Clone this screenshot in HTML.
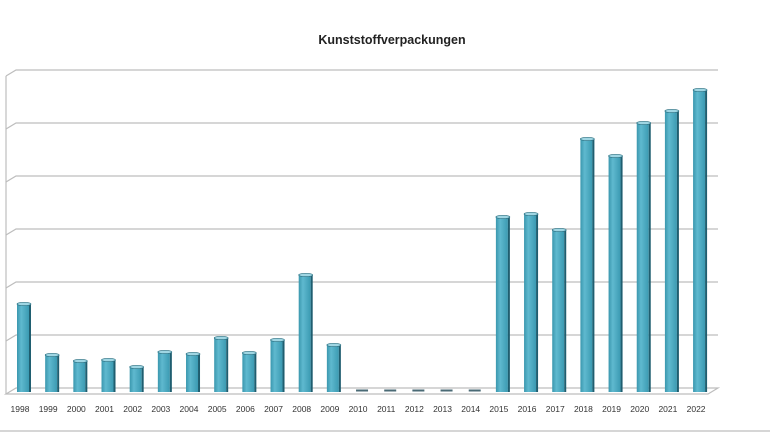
<!DOCTYPE html>
<html><head><meta charset="utf-8"><style>
html,body{margin:0;padding:0;background:#fff;}
svg{display:block;}
</style></head><body>
<svg width="770" height="433" viewBox="0 0 770 433" xmlns="http://www.w3.org/2000/svg">
<defs>
<linearGradient id="g" x1="0" x2="1" y1="0" y2="0">
<stop offset="0" stop-color="#3a97ae"/>
<stop offset="0.35" stop-color="#5fb9cf"/>
<stop offset="1" stop-color="#3b9ab2"/>
</linearGradient>
</defs>
<text x="392" y="44" text-anchor="middle" font-family="Liberation Sans, sans-serif" font-weight="bold" font-size="12.5" fill="#222">Kunststoffverpackungen</text>
<g stroke="#bdbdbd" stroke-width="1.2" fill="none">
<line x1="6" y1="76" x2="6" y2="394"/>
<path d="M6 76 L16 70 L718 70"/>
<path d="M6 129 L16 123 L718 123"/>
<path d="M6 182 L16 176 L718 176"/>
<path d="M6 235 L16 229 L718 229"/>
<path d="M6 288 L16 282 L718 282"/>
<path d="M6 341 L16 335 L718 335"/>
<path d="M6 394 L16 388 L718 388 L708 394 Z"/>
</g>
<line x1="0" y1="431" x2="770" y2="431" stroke="#c8c8c8" stroke-width="1.5"/>
<g id="bars"></g>
<g font-family="Liberation Sans, sans-serif" font-size="8.5" fill="#333" text-anchor="middle" id="labels"></g>
<script>
var tops=[303,354,360,359,366,351,353,337,352,339,274,344,390,390,390,390,390,216,213,229,138,155,122,110,89];
var b=document.getElementById('bars'),l=document.getElementById('labels'),ns='http://www.w3.org/2000/svg';
for(var i=0;i<25;i++){var cx=24+i*28.17,t=tops[i];
var h=392-t;
if(h>3){
var r=document.createElementNS(ns,'rect');r.setAttribute('x',cx-7);r.setAttribute('y',t);r.setAttribute('width',12);r.setAttribute('height',h);r.setAttribute('fill','url(#g)');b.appendChild(r);
var s=document.createElementNS(ns,'rect');s.setAttribute('x',cx+5);s.setAttribute('y',t+1);s.setAttribute('width',2);s.setAttribute('height',h-1);s.setAttribute('fill','#1f5e70');b.appendChild(s);
var c=document.createElementNS(ns,'ellipse');c.setAttribute('cx',cx);c.setAttribute('cy',t+1);c.setAttribute('rx',7);c.setAttribute('ry',1.6);c.setAttribute('fill','#9fd6e3');c.setAttribute('stroke','#2b6f80');c.setAttribute('stroke-width','0.6');b.appendChild(c);
}else{
var f=document.createElementNS(ns,'rect');f.setAttribute('x',cx-6);f.setAttribute('y',389.5);f.setAttribute('width',12);f.setAttribute('height',2);f.setAttribute('fill','#4a6a75');b.appendChild(f);}
var tx=document.createElementNS(ns,'text');tx.setAttribute('x',cx-4);tx.setAttribute('y',412);tx.textContent=1998+i;l.appendChild(tx);}
</script>
</svg>
</body></html>
